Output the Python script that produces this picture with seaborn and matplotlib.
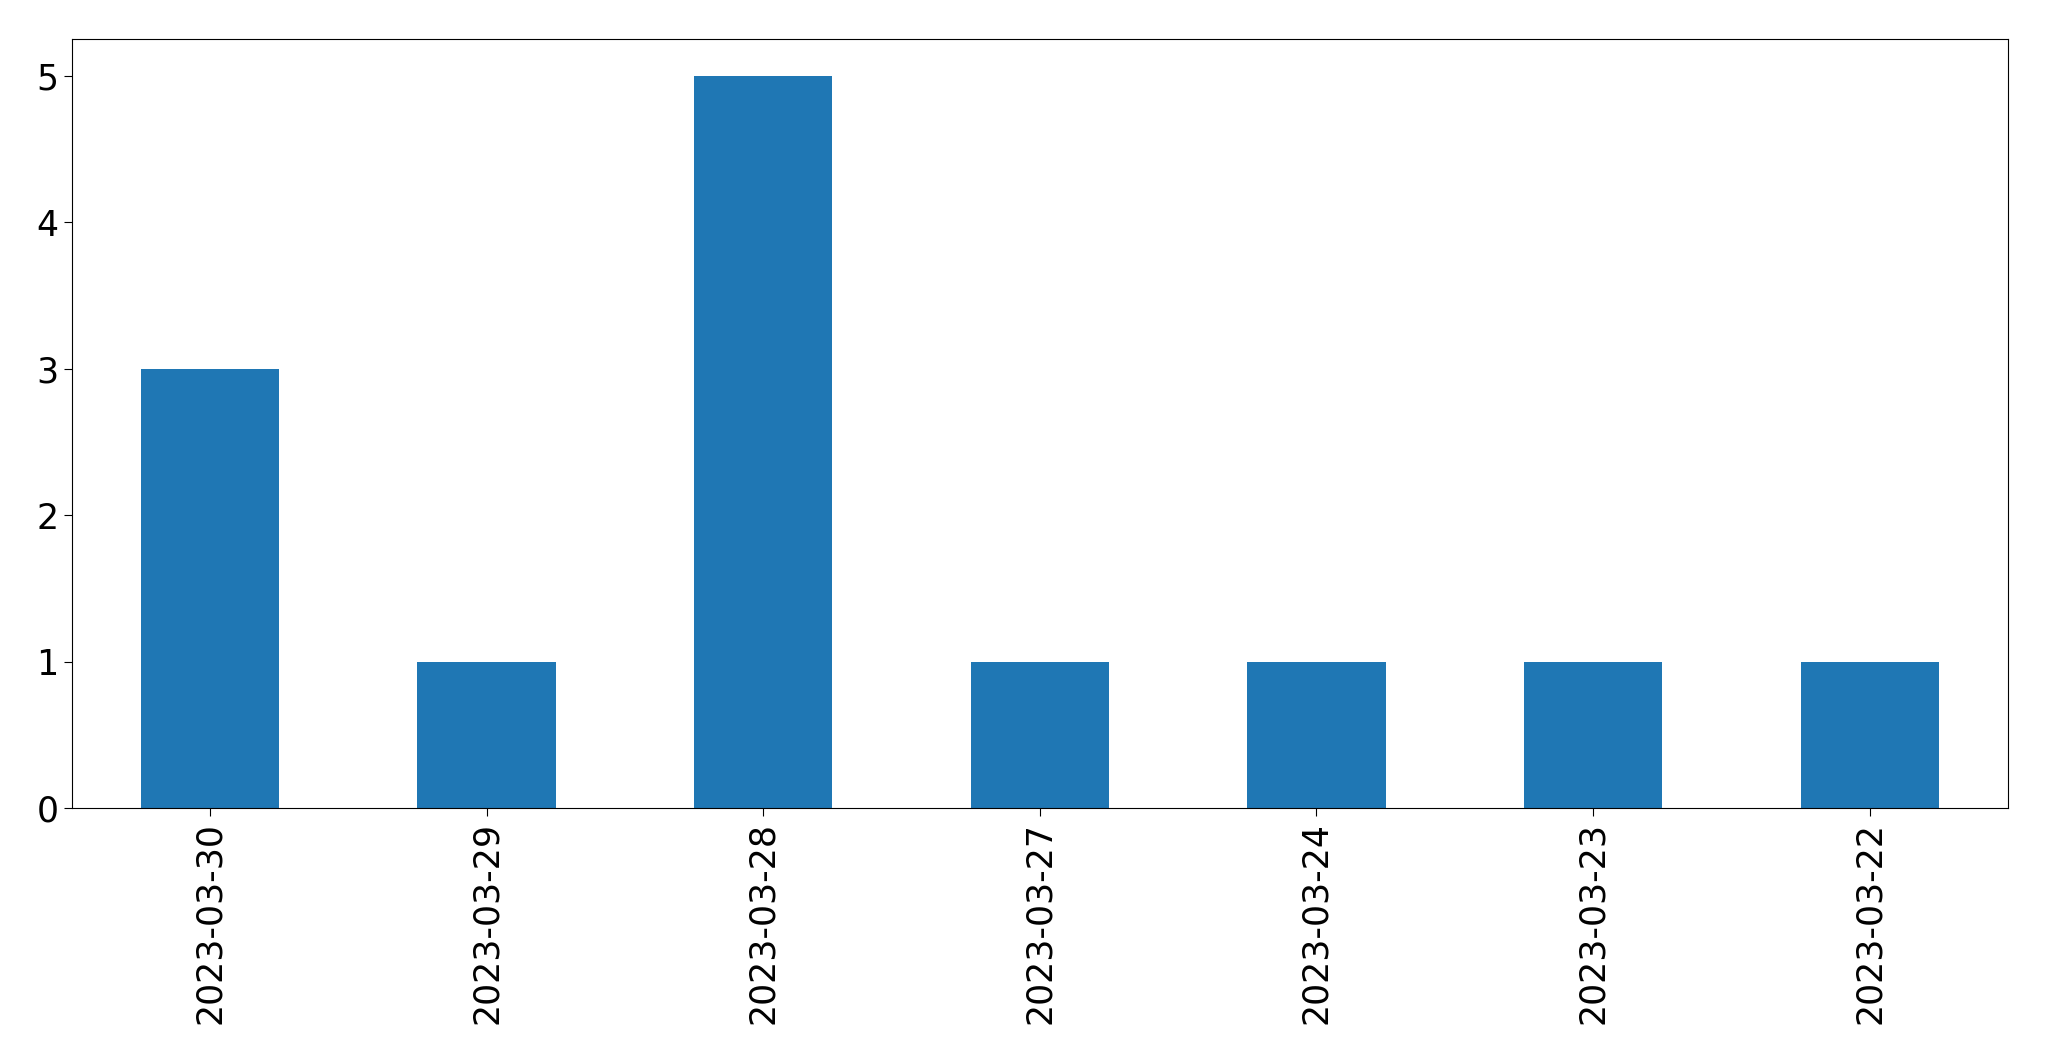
import pandas as pd
import seaborn as sns
import matplotlib.pyplot as plt

# Counts per date, in the order shown on the chart
dates = ["2023-03-30", "2023-03-29", "2023-03-28", "2023-03-27",
         "2023-03-24", "2023-03-23", "2023-03-22"]
counts = [3, 1, 5, 1, 1, 1, 1]

data = pd.DataFrame({"date": dates, "count": counts})

fig, ax = plt.subplots(figsize=(20.49, 10.61), dpi=100)
sns.barplot(data=data, x="date", y="count", order=dates, color="#1f77b4",
            saturation=1, width=0.5, errorbar=None, ax=ax)
ax.set_xlim(-0.5, len(dates) - 0.5)
ax.set_ylim(0, 5.25)
ax.set_xlabel("")
ax.set_ylabel("")
ax.tick_params(axis="both", labelsize=25, length=6)
plt.xticks(rotation=90)
plt.subplots_adjust(left=0.035, right=0.98, top=0.963, bottom=0.238)
plt.savefig("out.png")
